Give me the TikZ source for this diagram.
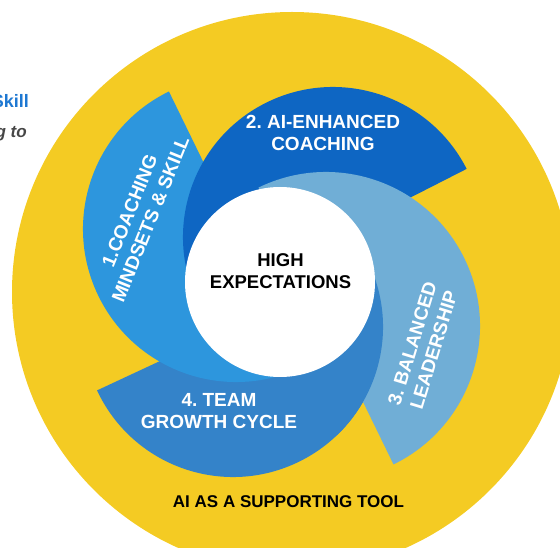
\documentclass[tikz,border=0pt]{standalone}
\usepackage{fontspec}
\setmainfont{Liberation Sans}
\usepackage{tikz}
\usetikzlibrary{
    positioning,
    calc
}
\usepackage{xcolor}
\definecolor{amarelo}{RGB}{244,203,35}
\definecolor{azulum}{RGB}{45,150,221}
\definecolor{azuldois}{RGB}{14,102,195}
\definecolor{azultres}{RGB}{112,174,214}
\definecolor{azulquatro}{RGB}{52,131,201}
\definecolor{azultexto}{RGB}{30,120,210}
\definecolor{cinza}{RGB}{70,70,70}
\frenchspacing

\begin{document}
\begin{tikzpicture}[
    x=1pt, y=1pt,
    every node/.style={inner sep=0pt},
    etapa/.style={
        text=white,
        align=center,
        font=\bfseries\fontsize{19}{22.5}\selectfont
    },
    titulo/.style={
        text=black,
        align=center,
        font=\bfseries\fontsize{18.5}{22}\selectfont
    },
    borda/.style={
        anchor=base east,
        font=\bfseries\fontsize{18}{20}\selectfont
    }
]

\useasboundingbox (0,0) rectangle (560,547);
\clip (0,0) rectangle (560,547);

\fill[amarelo] (292,255) circle[radius=280];

\coordinate (c1) at (236,318);
\coordinate (c2) at (333,310);
\coordinate (c3) at (326,221);
\coordinate (c4) at (233,220);

\fill[azulquatro] (c4) -- ++(205:150) arc[start angle=205, end angle=385, radius=150] -- cycle;
\fill[azulum] (c1) -- ++(116:153) arc[start angle=116, end angle=296, radius=153] -- cycle;
\fill[azuldois] (c2) -- ++(27:150) arc[start angle=27, end angle=207, radius=150] -- cycle;
\fill[azultres] (c3) -- ++(-64:154) arc[start angle=-64, end angle=116, radius=154] -- cycle;
\begin{scope}
    \clip (c1) -- ++(116:600) -- ++(26:900) -- ++(-64:1200) -- ++(206:900) -- cycle;
    \fill[azulquatro] (c4) -- ++(205:150) arc[start angle=205, end angle=385, radius=150] -- cycle;
\end{scope}

\node[circle, fill=white, minimum size=190pt] (disco) at (280,265) {};
\node[titulo] (centro) at (280.5,276) {HIGH\\EXPECTATIONS};

\node[etapa, rotate=68] (passo1) at (140,332) {1.COACHING\\MINDSETS \& SKILL};
\node[etapa] (passo2) at (323,414) {2. AI-ENHANCED\\COACHING};
\node[etapa, rotate=73] (passo3) at (423,200) {3. BALANCED\\LEADERSHIP};
\node[etapa] (passo4) at (219,136) {4. TEAM\\GROWTH CYCLE};

\node[titulo, font=\bfseries\fontsize{17}{20}\selectfont] (ferramenta) at (288.5,45) {AI AS A SUPPORTING TOOL};

\node[borda, text=azultexto] (skill) at (29,439) {Skill};
\node[borda, text=cinza, font=\bfseries\itshape\fontsize{17}{20}\selectfont] (gto) at (27,409) {g to};

\end{tikzpicture}
\end{document}
